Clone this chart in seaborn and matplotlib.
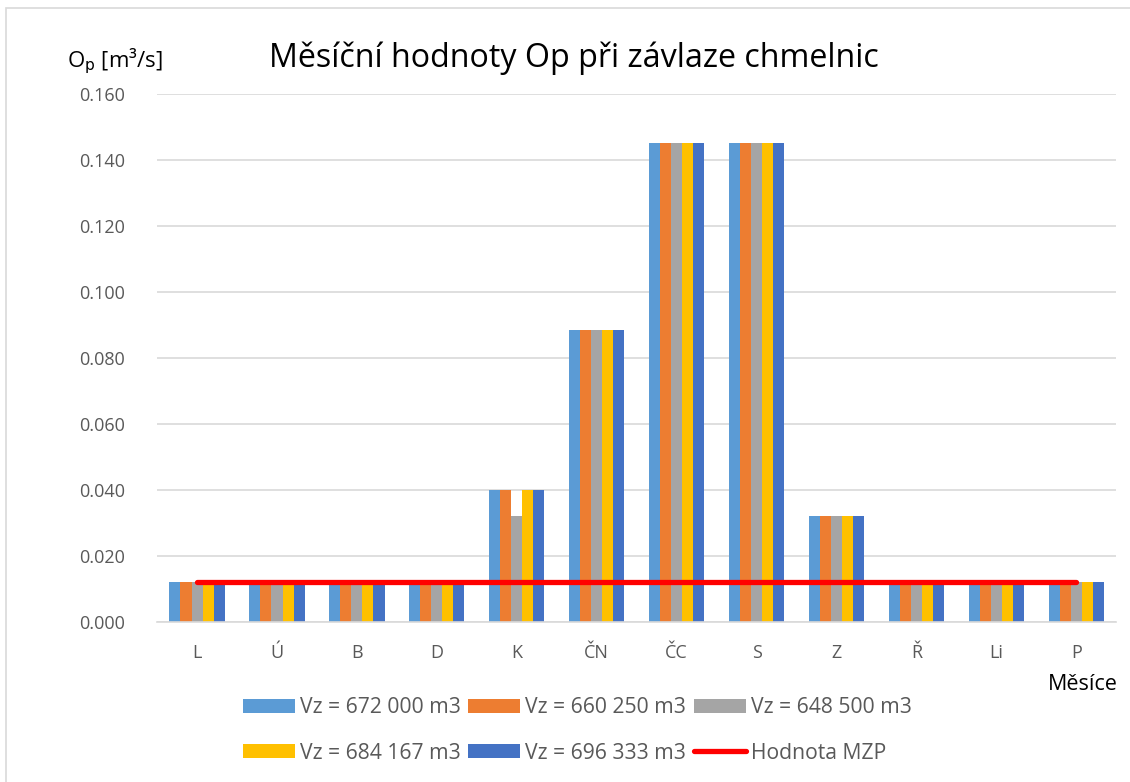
import numpy as np
import pandas as pd
import matplotlib
matplotlib.use("Agg")
import matplotlib.pyplot as plt
from matplotlib.patches import Rectangle
import seaborn as sns

months = ["L", "Ú", "B", "D", "K", "ČN", "ČC", "S", "Z", "Ř", "Li", "P"]
series_names = ["Vz = 672 000 m3", "Vz = 660 250 m3", "Vz = 648 500 m3",
                "Vz = 684 167 m3", "Vz = 696 333 m3"]
vz_672000 = [0.012, 0.012, 0.012, 0.012, 0.040, 0.0885, 0.145, 0.145, 0.032, 0.012, 0.012, 0.012]
vz_660250 = [0.012, 0.012, 0.012, 0.012, 0.040, 0.0885, 0.145, 0.145, 0.032, 0.012, 0.012, 0.012]
vz_648500 = [0.012, 0.012, 0.012, 0.012, 0.032, 0.0885, 0.145, 0.145, 0.032, 0.012, 0.012, 0.012]
vz_684167 = [0.012, 0.012, 0.012, 0.012, 0.040, 0.0885, 0.145, 0.145, 0.032, 0.012, 0.012, 0.012]
vz_696333 = [0.012, 0.012, 0.012, 0.012, 0.040, 0.0885, 0.145, 0.145, 0.032, 0.012, 0.012, 0.012]
mzp = [0.0121] * 12
colors = ["#5B9BD5", "#ED7D31", "#A5A5A5", "#FFC000", "#4472C4"]

rows = []
for name, vals in zip(series_names, [vz_672000, vz_660250, vz_648500, vz_684167, vz_696333]):
    for m, v in zip(months, vals):
        rows.append({"month": m, "series": name, "value": v})
df = pd.DataFrame(rows)

sns.set_style("white")
plt.rcParams["font.family"] = ["Open Sans", "DejaVu Sans"]

fig = plt.figure(figsize=(11.3, 7.82), dpi=100)
ax = fig.add_axes([0.139, 0.2046, 0.849, 0.6752])

sns.barplot(data=df, x="month", y="value", hue="series", order=months,
            hue_order=series_names, palette=colors, width=0.69, gap=0,
            linewidth=0, saturation=1, ax=ax, legend=True)
line, = ax.plot(range(len(months)), mzp, color="#FF0000", lw=3.8,
                solid_capstyle="round", label="Hodnota MZP")

ax.set_ylim(0, 0.16)
ax.set_xlim(-0.5, 11.5)
ax.set_yticks(np.arange(0, 0.161, 0.02))
ax.set_yticklabels([f"{t:.3f}" for t in np.arange(0, 0.161, 0.02)])
ax.yaxis.grid(True, color="#D9D9D9", lw=1.2)
ax.set_axisbelow(True)
for s in ["top", "right", "left"]:
    ax.spines[s].set_visible(False)
ax.spines["bottom"].set_color("#D9D9D9")
ax.spines["bottom"].set_linewidth(1.2)
ax.tick_params(axis="both", length=0, labelsize=13, labelcolor="#595959")
ax.tick_params(axis="x", pad=16)
ax.tick_params(axis="y", pad=23)
ax.set_xlabel("")
ax.set_ylabel("")

fig.text(0.059, 0.922, "O$_\\mathrm{p}$ [m³/s]", fontsize=16, color="#000000", va="center")
fig.text(0.5075, 0.926, "Měsíční hodnoty Op při závlaze chmelnic", fontsize=23.2,
         color="#000000", ha="center", va="center")
fig.text(0.958, 0.125, "Měsíce", fontsize=15.5, color="#000000", ha="center", va="center")

handles, labels = ax.get_legend_handles_labels()
ax.get_legend().remove()
h = handles[:5] + [line]
l = series_names + ["Hodnota MZP"]
order = [0, 3, 1, 4, 2, 5]
leg = fig.legend([h[i] for i in order], [l[i] for i in order], ncol=3,
                 loc="center", bbox_to_anchor=(0.511, 0.066), frameon=False,
                 fontsize=15.2, labelcolor="#595959", handlelength=2.46,
                 handleheight=0.62, handletextpad=0.24, columnspacing=0.38,
                 labelspacing=1.16)

fig.patches.append(Rectangle((0.005, -0.02), 1.1, 1.01, transform=fig.transFigure,
                             fill=False, edgecolor="#D9D9D9", lw=1.2))

fig.savefig("out.png", dpi=100)
